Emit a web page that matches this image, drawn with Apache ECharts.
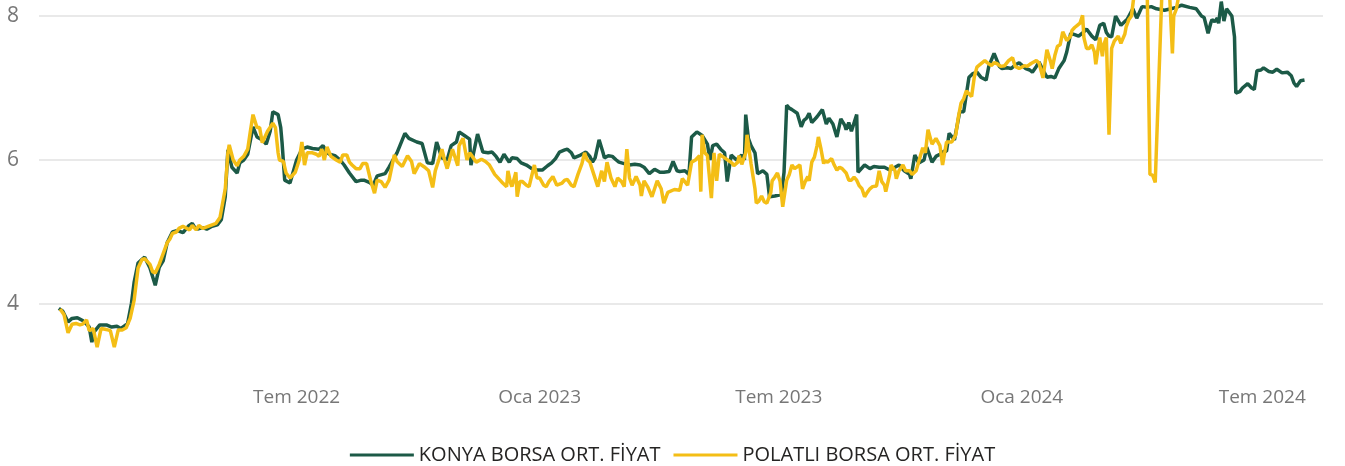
<!DOCTYPE html>
<html>
<head>
<meta charset="utf-8">
<script src="https://cdn.jsdelivr.net/npm/echarts@6/dist/echarts.min.js"></script>
<style>
  html, body { margin: 0; padding: 0; background: #fff; }
  #chart { width: 1345px; height: 466px; }
</style>
</head>
<body>
<div id="chart"></div>
<script>
// Konya borsa ortalama fiyat (TL/kg)
const konyaDates = [
  '2022-01-02','2022-01-05','2022-01-09','2022-01-12','2022-01-16','2022-01-20','2022-01-23','2022-01-25','2022-01-27','2022-01-29',
  '2022-02-02','2022-02-07','2022-02-11','2022-02-15','2022-02-18','2022-02-21','2022-02-23','2022-02-26','2022-02-28','2022-03-03',
  '2022-03-06','2022-03-08','2022-03-12','2022-03-16','2022-03-19','2022-03-22','2022-03-25','2022-03-29','2022-04-02','2022-04-06',
  '2022-04-10','2022-04-13','2022-04-15','2022-04-17','2022-04-21','2022-04-24','2022-04-28','2022-05-02','2022-05-05','2022-05-08',
  '2022-05-10','2022-05-13','2022-05-17','2022-05-19','2022-05-22','2022-05-25','2022-05-29','2022-06-01','2022-06-05','2022-06-08',
  '2022-06-11','2022-06-13','2022-06-17','2022-06-19','2022-06-20','2022-06-22','2022-06-26','2022-06-27','2022-07-01','2022-07-05',
  '2022-07-09','2022-07-13','2022-07-18','2022-07-21','2022-07-24','2022-07-26','2022-07-30','2022-08-03','2022-08-06','2022-08-10',
  '2022-08-15','2022-08-19','2022-08-21','2022-08-25','2022-08-28','2022-08-31','2022-09-06','2022-09-09','2022-09-15','2022-09-21',
  '2022-09-24','2022-09-30','2022-10-04','2022-10-08','2022-10-12','2022-10-15','2022-10-19','2022-10-23','2022-10-26','2022-10-30',
  '2022-11-01','2022-11-05','2022-11-09','2022-11-10','2022-11-15','2022-11-19','2022-11-23','2022-11-26','2022-11-29','2022-12-02',
  '2022-12-05','2022-12-09','2022-12-11','2022-12-15','2022-12-18','2022-12-22','2022-12-26','2022-12-30','2023-01-03','2023-01-07',
  '2023-01-10','2023-01-13','2023-01-16','2023-01-20','2023-01-22','2023-01-25','2023-01-27','2023-01-31','2023-02-05','2023-02-08',
  '2023-02-10','2023-02-12','2023-02-15','2023-02-18','2023-02-19','2023-02-22','2023-02-25','2023-02-28','2023-03-02','2023-03-06',
  '2023-03-10','2023-03-14','2023-03-18','2023-03-21','2023-03-25','2023-03-29','2023-03-31','2023-04-02','2023-04-05','2023-04-09',
  '2023-04-12','2023-04-15','2023-04-17','2023-04-21','2023-04-24','2023-04-26','2023-04-30','2023-05-04','2023-05-08','2023-05-10',
  '2023-05-12','2023-05-15','2023-05-18','2023-05-21','2023-05-23','2023-05-26','2023-05-30','2023-06-03','2023-06-05','2023-06-06',
  '2023-06-08','2023-06-10','2023-06-13','2023-06-15','2023-06-19','2023-06-22','2023-06-24','2023-06-28','2023-07-03','2023-07-05',
  '2023-07-07','2023-07-09','2023-07-11','2023-07-15','2023-07-18','2023-07-20','2023-07-22','2023-07-24','2023-07-26','2023-07-30',
  '2023-08-03','2023-08-06','2023-08-08','2023-08-11','2023-08-14','2023-08-17','2023-08-20','2023-08-21','2023-08-23','2023-08-25',
  '2023-08-29','2023-08-30','2023-09-04','2023-09-08','2023-09-11','2023-09-15','2023-09-19','2023-09-23','2023-09-27','2023-09-30',
  '2023-10-04','2023-10-08','2023-10-09','2023-10-12','2023-10-15','2023-10-19','2023-10-21','2023-10-25','2023-10-28','2023-10-31',
  '2023-11-03','2023-11-05','2023-11-07','2023-11-11','2023-11-15','2023-11-18','2023-11-22','2023-11-25','2023-11-28','2023-12-01',
  '2023-12-05','2023-12-07','2023-12-11','2023-12-15','2023-12-17','2023-12-21','2023-12-24','2023-12-27','2023-12-30','2024-01-02',
  '2024-01-04','2024-01-07','2024-01-09','2024-01-12','2024-01-14','2024-01-17','2024-01-20','2024-01-23','2024-01-26','2024-01-29',
  '2024-02-02','2024-02-04','2024-02-07','2024-02-10','2024-02-13','2024-02-17','2024-02-19','2024-02-23','2024-02-26','2024-02-29',
  '2024-03-03','2024-03-05','2024-03-07','2024-03-09','2024-03-12','2024-03-16','2024-03-21','2024-03-25','2024-03-28','2024-04-01',
  '2024-04-05','2024-04-08','2024-04-12','2024-04-18','2024-04-23','2024-04-27','2024-05-01','2024-05-07','2024-05-12','2024-05-16',
  '2024-05-18','2024-05-21','2024-05-23','2024-05-24','2024-05-26','2024-05-28','2024-05-29','2024-05-31','2024-06-02','2024-06-04',
  '2024-06-08','2024-06-10','2024-06-11','2024-06-14','2024-06-16','2024-06-20','2024-06-23','2024-06-25','2024-06-27','2024-06-30',
  '2024-07-02','2024-07-06','2024-07-09','2024-07-12','2024-07-16','2024-07-20','2024-07-23','2024-07-25','2024-07-27','2024-07-30',
  '2024-08-02'
];
const konyaValues = [
  3.94,3.90,3.75,3.80,3.81,3.77,3.72,3.68,3.47,3.62,
  3.71,3.71,3.68,3.69,3.66,3.70,3.72,4.01,4.30,4.57,
  4.62,4.65,4.50,4.26,4.51,4.60,4.85,5.00,5.02,4.99,
  5.08,5.12,5.06,5.04,5.06,5.04,5.08,5.10,5.17,5.49,
  6.14,5.90,5.82,5.96,6.00,6.08,6.46,6.32,6.28,6.22,
  6.40,6.67,6.63,6.45,6.24,5.72,5.68,5.68,6.00,6.15,
  6.18,6.16,6.15,6.20,6.10,6.08,6.06,6.00,5.93,5.82,
  5.70,5.72,5.72,5.69,5.65,5.78,5.81,5.90,6.10,6.37,
  6.30,6.25,6.23,5.96,5.95,6.25,6.03,6.00,6.20,6.25,
  6.39,6.34,6.29,5.93,6.36,6.11,6.10,6.11,6.05,5.97,
  6.08,5.97,6.03,6.02,5.96,5.93,5.88,5.86,5.86,5.92,
  5.96,6.02,6.11,6.14,6.15,6.10,6.03,6.06,6.11,6.05,
  5.97,6.03,6.28,6.10,6.03,6.06,6.05,6.00,5.97,5.95,
  5.93,5.94,5.93,5.90,5.81,5.87,5.85,5.83,5.83,5.84,
  5.98,5.85,5.84,5.85,5.80,6.32,6.39,6.34,6.22,6.00,
  6.20,6.22,6.15,6.10,5.70,6.07,6.00,6.07,6.00,6.63,
  6.30,6.20,6.10,5.81,5.85,5.80,5.49,5.50,5.52,5.83,
  6.76,6.72,6.70,6.65,6.46,6.55,6.58,6.65,6.52,6.60,
  6.70,6.50,6.58,6.50,6.32,6.57,6.48,6.42,6.52,6.40,
  6.63,5.83,5.93,5.88,5.91,5.90,5.90,5.86,5.90,5.93,
  5.85,5.80,5.74,6.07,5.96,6.00,6.18,5.97,6.05,6.08,
  6.12,6.12,6.37,6.28,6.67,6.67,7.15,7.20,7.22,7.15,
  7.11,7.30,7.48,7.30,7.27,7.28,7.27,7.32,7.35,7.30,
  7.27,7.25,7.22,7.30,7.36,7.25,7.15,7.16,7.14,7.27,
  7.38,7.50,7.76,7.74,7.72,7.78,7.82,7.72,7.67,7.87,
  7.90,7.77,7.72,7.71,8.00,7.87,7.96,8.10,7.97,8.13,
  8.12,8.13,8.10,8.08,8.10,8.12,8.15,8.12,8.10,8.00,
  7.98,7.76,7.90,7.95,7.92,7.97,7.90,8.20,7.93,8.10,
  8.00,7.71,6.93,6.95,7.00,7.06,7.00,6.98,7.24,7.25,
  7.28,7.23,7.22,7.26,7.21,7.22,7.17,7.07,7.02,7.10,
  7.11
];

// Polatlı borsa ortalama fiyat (TL/kg)
const polatliDates = [
  '2022-01-03','2022-01-06','2022-01-09','2022-01-12','2022-01-15','2022-01-18','2022-01-20','2022-01-23','2022-01-25','2022-01-28',
  '2022-01-31','2022-02-03','2022-02-06','2022-02-08','2022-02-10','2022-02-13','2022-02-16','2022-02-19','2022-02-22','2022-02-25',
  '2022-02-28','2022-03-03','2022-03-06','2022-03-08','2022-03-12','2022-03-14','2022-03-16','2022-03-19','2022-03-22','2022-03-25',
  '2022-03-27','2022-03-29','2022-04-01','2022-04-03','2022-04-06','2022-04-08','2022-04-11','2022-04-13','2022-04-16','2022-04-18',
  '2022-04-21','2022-04-24','2022-04-28','2022-05-01','2022-05-04','2022-05-08','2022-05-10','2022-05-11','2022-05-14','2022-05-17',
  '2022-05-19','2022-05-22','2022-05-25','2022-05-27','2022-05-29','2022-06-01','2022-06-03','2022-06-05','2022-06-09','2022-06-13',
  '2022-06-15','2022-06-17','2022-06-18','2022-06-21','2022-06-23','2022-06-26','2022-06-27','2022-06-30','2022-07-03','2022-07-05',
  '2022-07-07','2022-07-09','2022-07-13','2022-07-16','2022-07-18','2022-07-20','2022-07-22','2022-07-24','2022-07-27','2022-07-28',
  '2022-07-31','2022-08-03','2022-08-05','2022-08-08','2022-08-10','2022-08-12','2022-08-15','2022-08-18','2022-08-20','2022-08-23',
  '2022-08-26','2022-08-29','2022-08-31','2022-09-03','2022-09-06','2022-09-09','2022-09-13','2022-09-15','2022-09-19','2022-09-23',
  '2022-09-26','2022-09-28','2022-10-02','2022-10-06','2022-10-09','2022-10-12','2022-10-14','2022-10-17','2022-10-19','2022-10-21',
  '2022-10-23','2022-10-27','2022-10-31','2022-11-01','2022-11-04','2022-11-07','2022-11-09','2022-11-11','2022-11-14','2022-11-18',
  '2022-11-21','2022-11-24','2022-11-28','2022-12-02','2022-12-04','2022-12-07','2022-12-08','2022-12-10','2022-12-11','2022-12-14',
  '2022-12-15','2022-12-17','2022-12-19','2022-12-22','2022-12-24','2022-12-28','2022-12-30','2023-01-01','2023-01-04','2023-01-06',
  '2023-01-08','2023-01-11','2023-01-14','2023-01-18','2023-01-20','2023-01-22','2023-01-25','2023-01-27','2023-01-30','2023-02-02',
  '2023-02-04','2023-02-06','2023-02-08','2023-02-11','2023-02-14','2023-02-17','2023-02-19','2023-02-21','2023-02-24','2023-02-27',
  '2023-03-01','2023-03-02','2023-03-04','2023-03-06','2023-03-08','2023-03-10','2023-03-12','2023-03-14','2023-03-15','2023-03-18',
  '2023-03-19','2023-03-21','2023-03-24','2023-03-27','2023-03-29','2023-03-31','2023-04-03','2023-04-05','2023-04-08','2023-04-09',
  '2023-04-13','2023-04-17','2023-04-19','2023-04-23','2023-04-26','2023-04-29','2023-05-02','2023-05-03','2023-05-04','2023-05-06',
  '2023-05-08','2023-05-11','2023-05-13','2023-05-15','2023-05-17','2023-05-21','2023-05-25','2023-05-27','2023-05-28','2023-05-31',
  '2023-06-01','2023-06-03','2023-06-06','2023-06-07','2023-06-10','2023-06-13','2023-06-14','2023-06-16','2023-06-18','2023-06-20',
  '2023-06-22','2023-06-25','2023-06-26','2023-06-28','2023-06-30','2023-07-02','2023-07-04','2023-07-07','2023-07-09','2023-07-11',
  '2023-07-13','2023-07-14','2023-07-17','2023-07-19','2023-07-21','2023-07-23','2023-07-24','2023-07-26','2023-07-28','2023-07-30',
  '2023-07-31','2023-08-02','2023-08-04','2023-08-05','2023-08-07','2023-08-10','2023-08-12','2023-08-14','2023-08-16','2023-08-18',
  '2023-08-21','2023-08-23','2023-08-25','2023-08-27','2023-08-29','2023-08-31','2023-09-02','2023-09-04','2023-09-06','2023-09-08',
  '2023-09-10','2023-09-13','2023-09-15','2023-09-17','2023-09-19','2023-09-20','2023-09-23','2023-09-24','2023-09-27','2023-09-28',
  '2023-09-30','2023-10-03','2023-10-05','2023-10-08','2023-10-10','2023-10-13','2023-10-15','2023-10-18','2023-10-20','2023-10-22',
  '2023-10-25','2023-10-28','2023-10-31','2023-11-02','2023-11-05','2023-11-07','2023-11-09','2023-11-12','2023-11-14','2023-11-16',
  '2023-11-18','2023-11-20','2023-11-22','2023-11-24','2023-11-26','2023-11-28','2023-11-30','2023-12-04','2023-12-06','2023-12-09',
  '2023-12-11','2023-12-13','2023-12-16','2023-12-19','2023-12-22','2023-12-25','2023-12-27','2023-12-30','2024-01-03','2024-01-05',
  '2024-01-08','2024-01-12','2024-01-14','2024-01-17','2024-01-19','2024-01-20','2024-01-23','2024-01-24','2024-01-26','2024-01-28',
  '2024-01-30','2024-02-01','2024-02-03','2024-02-04','2024-02-07','2024-02-08','2024-02-10','2024-02-12','2024-02-14','2024-02-16',
  '2024-02-17','2024-02-19','2024-02-21','2024-02-23','2024-02-25','2024-02-26','2024-02-29','2024-03-02','2024-03-03','2024-03-05',
  '2024-03-07','2024-03-09','2024-03-11','2024-03-14','2024-03-16','2024-03-19','2024-03-20','2024-03-22','2024-03-24','2024-03-26',
  '2024-03-30','2024-04-03','2024-04-05','2024-04-07','2024-04-09','2024-04-10','2024-04-11','2024-04-16','2024-04-19','2024-04-22',
  '2024-04-24','2024-04-25','2024-04-27','2024-04-29'
];
const polatliValues = [
  3.93,3.85,3.60,3.72,3.73,3.71,3.72,3.78,3.63,3.66,
  3.40,3.66,3.65,3.64,3.63,3.40,3.64,3.64,3.67,3.80,
  4.05,4.50,4.62,4.63,4.55,4.45,4.43,4.55,4.70,4.85,
  4.90,4.98,5.00,5.05,5.08,5.06,5.03,5.09,5.03,5.09,
  5.05,5.07,5.10,5.12,5.20,5.60,6.10,6.21,6.00,5.92,
  6.00,6.05,6.15,6.40,6.63,6.45,6.45,6.24,6.40,6.51,
  6.45,6.10,6.00,5.98,5.82,5.75,5.73,5.83,6.00,6.25,
  5.93,6.10,6.10,6.08,6.05,6.15,6.00,6.18,6.05,6.05,
  6.00,5.97,6.07,6.07,5.97,5.93,5.88,5.88,5.95,5.95,
  5.72,5.54,5.72,5.70,5.62,5.72,6.07,5.98,5.91,6.06,
  5.98,5.81,5.95,5.90,5.85,5.62,5.85,6.02,6.15,6.00,
  5.88,6.15,5.92,6.20,6.30,6.00,6.10,6.05,5.97,6.01,
  5.98,5.93,5.80,5.72,5.68,5.63,5.85,5.68,5.63,5.83,
  5.49,5.70,5.70,5.65,5.63,5.93,5.75,5.75,5.65,5.63,
  5.70,5.77,5.65,5.68,5.72,5.73,5.65,5.63,5.80,5.95,
  6.10,6.00,5.97,5.80,5.63,5.85,5.70,5.97,5.75,5.63,
  5.75,5.77,5.70,5.63,6.15,5.75,5.65,5.73,5.77,5.65,
  5.50,5.71,5.62,5.49,5.60,5.71,5.60,5.40,5.55,5.57,
  5.59,5.58,5.74,5.65,5.97,6.00,6.06,5.56,6.35,6.10,
  6.06,5.47,6.10,5.71,6.08,6.03,5.98,5.95,5.92,5.97,
  6.06,5.94,6.10,6.35,5.95,5.60,5.40,5.43,5.50,5.42,
  5.40,5.55,5.71,5.76,5.82,5.70,5.35,5.72,5.80,5.93,
  5.88,5.88,5.93,5.60,5.70,5.77,5.71,5.97,6.04,6.20,
  6.32,6.15,5.95,5.99,5.97,6.02,5.93,5.86,5.90,5.88,
  5.82,5.72,5.72,5.76,5.72,5.64,5.60,5.49,5.55,5.60,
  5.63,5.64,5.85,5.70,5.65,5.56,5.80,5.93,5.85,5.74,
  5.85,5.93,5.85,5.85,5.80,5.85,5.98,6.17,6.10,6.42,
  6.22,6.30,6.20,5.93,6.25,6.25,6.25,6.35,6.60,6.79,
  6.85,6.96,6.92,6.88,7.15,7.29,7.32,7.38,7.35,7.31,
  7.35,7.34,7.30,7.31,7.38,7.42,7.30,7.27,7.31,7.30,
  7.34,7.38,7.35,7.14,7.40,7.53,7.35,7.27,7.45,7.58,
  7.60,7.78,7.70,7.66,7.72,7.80,7.84,7.87,7.90,8.01,
  7.70,7.55,7.55,7.60,7.50,7.33,7.70,7.44,7.60,7.70,
  6.35,7.55,7.65,7.72,7.62,7.75,7.85,7.95,8.00,8.30,
  8.30,8.30,8.25,5.80,5.79,5.78,5.69,8.30,8.30,8.25,
  7.48,8.00,8.10,8.30
];

// Axis ticks
const yTickValues = [4, 6, 8];
const xTickDates = ['2022-07-01', '2023-01-01', '2023-07-01', '2024-01-01', '2024-07-01'];
const xTickLabels = ['Tem 2022', 'Oca 2023', 'Tem 2023', 'Oca 2024', 'Tem 2024'];

const seriesNames = ['KONYA BORSA ORT. FİYAT', 'POLATLI BORSA ORT. FİYAT'];
const seriesColors = ['#1c5a47', '#f4be16'];

const FONT = "'Segoe UI', 'Open Sans', sans-serif";
const DAY = 24 * 3600 * 1000;

function zip(dates, values) {
  return dates.map((d, i) => [d, values[i]]);
}

// Half-year ticks: only the listed dates get a label
const xTickKeys = xTickDates.map(d => d.slice(0, 7));
function xLabel(value) {
  const t = new Date(value);
  if (t.getDate() !== 1) return '';
  const key = t.getFullYear() + '-' + String(t.getMonth() + 1).padStart(2, '0');
  const i = xTickKeys.indexOf(key);
  return i >= 0 ? xTickLabels[i] : '';
}

const chart = echarts.init(document.getElementById('chart'), null, { renderer: 'canvas' });
chart.setOption({
  animation: false,
  backgroundColor: '#ffffff',
  grid: { left: 39, right: 22, top: 0, bottom: 90, outerBoundsMode: 'none' },
  legend: {
    left: 'center',
    top: 440,
    icon: 'rect',
    itemWidth: 64,
    itemHeight: 3,
    itemGap: 13,
    textStyle: { fontFamily: FONT, fontSize: 20, color: '#252423' },
    data: seriesNames
  },
  xAxis: {
    type: 'time',
    min: '2021-12-18',
    max: '2024-08-16',
    splitNumber: 5,
    minInterval: 170 * DAY,
    maxInterval: 190 * DAY,
    axisLine: { show: false },
    axisTick: { show: false },
    splitLine: { show: false },
    axisLabel: {
      formatter: xLabel,
      color: '#777777',
      fontFamily: FONT,
      fontSize: 19,
      margin: 12,
      hideOverlap: false,
      showMinLabel: false,
      showMaxLabel: false
    }
  },
  yAxis: {
    type: 'value',
    min: 3,
    max: 8.2222,
    axisLine: { show: false },
    axisTick: { show: false, customValues: yTickValues },
    splitLine: { show: true, lineStyle: { color: '#e9e9e9', width: 2 } },
    axisLabel: {
      customValues: yTickValues,
      color: '#777777',
      fontFamily: FONT,
      fontSize: 21,
      margin: 20
    }
  },
  series: [
    {
      name: seriesNames[0],
      type: 'line',
      data: zip(konyaDates, konyaValues),
      showSymbol: false,
      color: seriesColors[0],
      lineStyle: { width: 3.5, color: seriesColors[0] },
      z: 2
    },
    {
      name: seriesNames[1],
      type: 'line',
      data: zip(polatliDates, polatliValues),
      showSymbol: false,
      color: seriesColors[1],
      lineStyle: { width: 3.5, color: seriesColors[1] },
      z: 3
    }
  ]
});
</script>
</body>
</html>
